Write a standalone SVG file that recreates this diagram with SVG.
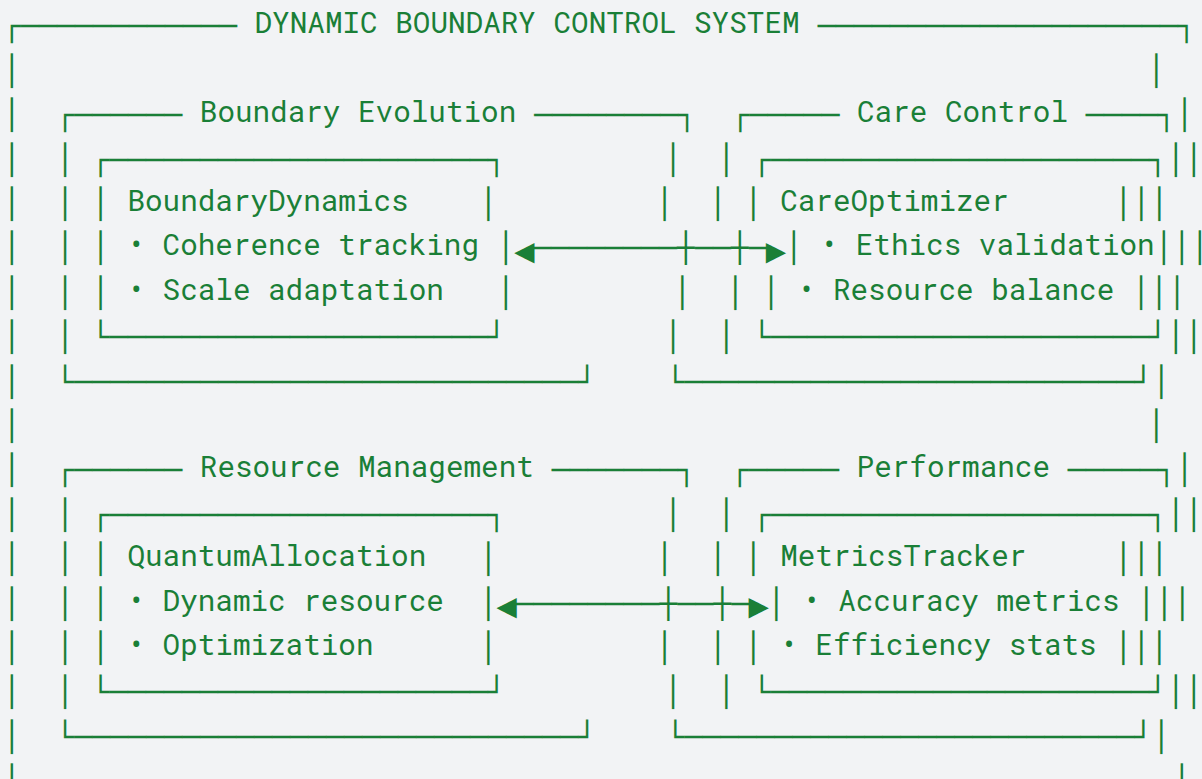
<svg xmlns="http://www.w3.org/2000/svg" width="1202" height="779" viewBox="0 0 1202 779">
<defs>
<style>
.t{font-family:"Roboto Mono","DejaVu Sans Mono","Liberation Mono",monospace;font-size:29.3px;fill:#1a7f37}
.b{font-family:"DejaVu Sans Mono","Liberation Mono",monospace;font-size:29.3px;fill:#1a7f37;transform:translate(0px,3px)}
.a{font-family:"DejaVu Sans Mono","Liberation Mono",monospace;font-size:29.3px;fill:#1a7f37;text-anchor:middle}
</style>
</defs>
<rect width="1202" height="779" fill="#f2f3f5"/>

<g id="frame">
<text class="b" x="3" y="33.3">┌</text>
<text class="b" x="21" y="33.3" textLength="216" lengthAdjust="spacingAndGlyphs">────────────</text>
<text class="t" x="254.6" y="33.3">DYNAMIC BOUNDARY CONTROL SYSTEM</text>
<text class="b" x="817.8" y="33.3" textLength="360" lengthAdjust="spacingAndGlyphs">────────────────────</text>
<text class="b" x="1177.8" y="33.3">┐</text>
<text class="b"><tspan x="3" y="77.7">│</tspan><tspan x="3" y="122.1">│</tspan><tspan x="3" y="166.5">│</tspan><tspan x="3" y="210.9">│</tspan><tspan x="3" y="255.3">│</tspan><tspan x="3" y="299.7">│</tspan><tspan x="3" y="344.1">│</tspan><tspan x="3" y="388.5">│</tspan><tspan x="3" y="432.9">│</tspan><tspan x="3" y="477.3">│</tspan><tspan x="3" y="521.7">│</tspan><tspan x="3" y="566.1">│</tspan><tspan x="3" y="610.5">│</tspan><tspan x="3" y="654.9">│</tspan><tspan x="3" y="699.3">│</tspan><tspan x="3" y="743.7">│</tspan><tspan x="3" y="788.1">│</tspan></text>
<text class="b"><tspan x="1147.4" y="77.7">│</tspan><tspan x="1175.8" y="122.1">│</tspan><tspan x="1185" y="166.5">│</tspan><tspan x="1150.6" y="210.9">│</tspan><tspan x="1191" y="255.3">│</tspan><tspan x="1168.2" y="299.7">│</tspan><tspan x="1185" y="344.1">│</tspan><tspan x="1152.6" y="388.5">│</tspan><tspan x="1147.4" y="432.9">│</tspan><tspan x="1175.8" y="477.3">│</tspan><tspan x="1185" y="521.7">│</tspan><tspan x="1150.6" y="566.1">│</tspan><tspan x="1173.4" y="610.5">│</tspan><tspan x="1150.6" y="654.9">│</tspan><tspan x="1185" y="699.3">│</tspan><tspan x="1152.6" y="743.7">│</tspan><tspan x="1173" y="788.1">│</tspan></text>
</g>

<g id="boundary-evolution">
<text class="b" x="56.2" y="122.1">┌</text>
<text class="b" x="74.2" y="122.1" textLength="108" lengthAdjust="spacingAndGlyphs">──────</text>
<text class="t" x="199.8" y="122.1">Boundary Evolution</text>
<text class="b" x="534.2" y="122.1" textLength="144" lengthAdjust="spacingAndGlyphs">────────</text>
<text class="b" x="678.2" y="122.1">┐</text>
<text class="b"><tspan x="56.2" y="166.5">│</tspan><tspan x="56.2" y="210.9">│</tspan><tspan x="56.2" y="255.3">│</tspan><tspan x="56.2" y="299.7">│</tspan><tspan x="56.2" y="344.1">│</tspan></text>
<text class="b"><tspan x="664.2" y="166.5">│</tspan><tspan x="655.8" y="210.9">│</tspan><tspan x="673.4" y="299.7">│</tspan><tspan x="664.2" y="344.1">│</tspan></text>
<text class="b" x="56.2" y="388.5">└</text>
<text class="b" x="74.2" y="388.5" textLength="504" lengthAdjust="spacingAndGlyphs">────────────────────────────</text>
<text class="b" x="578.2" y="388.5">┘</text>
</g>

<g id="boundary-dynamics">
<text class="b" x="91.8" y="166.5">┌</text>
<text class="b" x="109.8" y="166.5" textLength="378" lengthAdjust="spacingAndGlyphs">─────────────────────</text>
<text class="b" x="487.8" y="166.5">┐</text>
<text class="b"><tspan x="91.8" y="210.9">│</tspan><tspan x="479.4" y="210.9">│</tspan><tspan x="91.8" y="255.3">│</tspan><tspan x="497" y="255.3">│</tspan><tspan x="91.8" y="299.7">│</tspan><tspan x="497" y="299.7">│</tspan></text>
<text class="t" x="127.4" y="210.9">BoundaryDynamics</text>
<text class="t" x="127.4" y="255.3">• Coherence tracking</text>
<text class="t" x="127.4" y="299.7">• Scale adaptation</text>
<text class="b" x="91.8" y="344.1">└</text>
<text class="b" x="109.8" y="344.1" textLength="378" lengthAdjust="spacingAndGlyphs">─────────────────────</text>
<text class="b" x="487.8" y="344.1">┘</text>
</g>

<g id="care-control">
<text class="b" x="731.4" y="122.1">┌</text>
<text class="b" x="749.4" y="122.1" textLength="90" lengthAdjust="spacingAndGlyphs">─────</text>
<text class="t" x="857" y="122.1">Care Control</text>
<text class="b" x="1085.8" y="122.1" textLength="72" lengthAdjust="spacingAndGlyphs">────</text>
<text class="b" x="1157.8" y="122.1">┐</text>
<text class="b"><tspan x="717.4" y="166.5">│</tspan><tspan x="709" y="210.9">│</tspan><tspan x="726.6" y="299.7">│</tspan><tspan x="717.4" y="344.1">│</tspan></text>
<text class="b"><tspan x="1167" y="166.5">│</tspan><tspan x="1132.6" y="210.9">│</tspan><tspan x="1173" y="255.3">│</tspan><tspan x="1150.2" y="299.7">│</tspan><tspan x="1167" y="344.1">│</tspan></text>
<text class="b" x="666.6" y="388.5">└</text>
<text class="b" x="684.6" y="388.5" textLength="450" lengthAdjust="spacingAndGlyphs">─────────────────────────</text>
<text class="b" x="1134.6" y="388.5">┘</text>
</g>

<g id="care-optimizer">
<text class="b" x="753" y="166.5">┌</text>
<text class="b" x="771" y="166.5" textLength="378" lengthAdjust="spacingAndGlyphs">─────────────────────</text>
<text class="b" x="1149" y="166.5">┐</text>
<text class="b"><tspan x="744.6" y="210.9">│</tspan><tspan x="1114.6" y="210.9">│</tspan><tspan x="785" y="255.3">│</tspan><tspan x="1155" y="255.3">│</tspan><tspan x="762.2" y="299.7">│</tspan><tspan x="1132.2" y="299.7">│</tspan></text>
<text class="t" x="780.2" y="210.9">CareOptimizer</text>
<text class="t" x="820.6" y="255.3">• Ethics validation</text>
<text class="t" x="797.8" y="299.7">• Resource balance</text>
<text class="b" x="753" y="344.1">└</text>
<text class="b" x="771" y="344.1" textLength="378" lengthAdjust="spacingAndGlyphs">─────────────────────</text>
<text class="b" x="1149" y="344.1">┘</text>
</g>

<g id="resource-management">
<text class="b" x="56.2" y="477.3">┌</text>
<text class="b" x="74.2" y="477.3" textLength="108" lengthAdjust="spacingAndGlyphs">──────</text>
<text class="t" x="199.8" y="477.3">Resource Management</text>
<text class="b" x="551.8" y="477.3" textLength="126" lengthAdjust="spacingAndGlyphs">───────</text>
<text class="b" x="677.8" y="477.3">┐</text>
<text class="b"><tspan x="56.2" y="521.7">│</tspan><tspan x="56.2" y="566.1">│</tspan><tspan x="56.2" y="610.5">│</tspan><tspan x="56.2" y="654.9">│</tspan><tspan x="56.2" y="699.3">│</tspan></text>
<text class="b"><tspan x="664.2" y="521.7">│</tspan><tspan x="655.8" y="566.1">│</tspan><tspan x="655.8" y="654.9">│</tspan><tspan x="664.2" y="699.3">│</tspan></text>
<text class="b" x="56.2" y="743.7">└</text>
<text class="b" x="74.2" y="743.7" textLength="504" lengthAdjust="spacingAndGlyphs">────────────────────────────</text>
<text class="b" x="578.2" y="743.7">┘</text>
</g>

<g id="quantum-allocation">
<text class="b" x="91.8" y="521.7">┌</text>
<text class="b" x="109.8" y="521.7" textLength="378" lengthAdjust="spacingAndGlyphs">─────────────────────</text>
<text class="b" x="487.8" y="521.7">┐</text>
<text class="b"><tspan x="91.8" y="566.1">│</tspan><tspan x="479.4" y="566.1">│</tspan><tspan x="91.8" y="610.5">│</tspan><tspan x="479.4" y="610.5">│</tspan><tspan x="91.8" y="654.9">│</tspan><tspan x="479.4" y="654.9">│</tspan></text>
<text class="t" x="127.4" y="566.1">QuantumAllocation</text>
<text class="t" x="127.4" y="610.5">• Dynamic resource</text>
<text class="t" x="127.4" y="654.9">• Optimization</text>
<text class="b" x="91.8" y="699.3">└</text>
<text class="b" x="109.8" y="699.3" textLength="378" lengthAdjust="spacingAndGlyphs">─────────────────────</text>
<text class="b" x="487.8" y="699.3">┘</text>
</g>

<g id="performance">
<text class="b" x="731" y="477.3">┌</text>
<text class="b" x="749" y="477.3" textLength="90" lengthAdjust="spacingAndGlyphs">─────</text>
<text class="t" x="856.6" y="477.3">Performance</text>
<text class="b" x="1067.8" y="477.3" textLength="90" lengthAdjust="spacingAndGlyphs">─────</text>
<text class="b" x="1157.8" y="477.3">┐</text>
<text class="b"><tspan x="717.4" y="521.7">│</tspan><tspan x="709" y="566.1">│</tspan><tspan x="709" y="654.9">│</tspan><tspan x="717.4" y="699.3">│</tspan></text>
<text class="b"><tspan x="1167" y="521.7">│</tspan><tspan x="1132.6" y="566.1">│</tspan><tspan x="1155.4" y="610.5">│</tspan><tspan x="1132.6" y="654.9">│</tspan><tspan x="1167" y="699.3">│</tspan></text>
<text class="b" x="666.6" y="743.7">└</text>
<text class="b" x="684.6" y="743.7" textLength="450" lengthAdjust="spacingAndGlyphs">─────────────────────────</text>
<text class="b" x="1134.6" y="743.7">┘</text>
</g>

<g id="metrics-tracker">
<text class="b" x="753" y="521.7">┌</text>
<text class="b" x="771" y="521.7" textLength="378" lengthAdjust="spacingAndGlyphs">─────────────────────</text>
<text class="b" x="1149" y="521.7">┐</text>
<text class="b"><tspan x="744.6" y="566.1">│</tspan><tspan x="1114.6" y="566.1">│</tspan><tspan x="767.4" y="610.5">│</tspan><tspan x="1137.4" y="610.5">│</tspan><tspan x="744.6" y="654.9">│</tspan><tspan x="1114.6" y="654.9">│</tspan></text>
<text class="t" x="780.2" y="566.1">MetricsTracker</text>
<text class="t" x="803" y="610.5">• Accuracy metrics</text>
<text class="t" x="780.2" y="654.9">• Efficiency stats</text>
<text class="b" x="753" y="699.3">└</text>
<text class="b" x="771" y="699.3" textLength="378" lengthAdjust="spacingAndGlyphs">─────────────────────</text>
<text class="b" x="1149" y="699.3">┘</text>
</g>

<g id="connectors">
<text class="a" transform="translate(524.5,248) scale(1.15,1.8)" x="0" y="10.3">◄</text>
<text class="b" x="533" y="255.3" textLength="144" lengthAdjust="spacingAndGlyphs">────────</text>
<text class="b" x="677" y="255.3">┼</text>
<text class="b" x="695" y="255.3" textLength="36" lengthAdjust="spacingAndGlyphs">──</text>
<text class="b" x="731" y="255.3">┼</text>
<text class="b" x="749" y="255.3" textLength="18" lengthAdjust="spacingAndGlyphs">─</text>
<text class="a" transform="translate(776,248) scale(1.15,1.8)" x="0" y="10.3">►</text>
<text class="a" transform="translate(506.6,603.2) scale(1.15,1.8)" x="0" y="10.3">◄</text>
<text class="b" x="515.4" y="610.5" textLength="144" lengthAdjust="spacingAndGlyphs">────────</text>
<text class="b" x="659.4" y="610.5">┼</text>
<text class="b" x="677.4" y="610.5" textLength="36" lengthAdjust="spacingAndGlyphs">──</text>
<text class="b" x="713.4" y="610.5">┼</text>
<text class="b" x="731.4" y="610.5" textLength="18" lengthAdjust="spacingAndGlyphs">─</text>
<text class="a" transform="translate(758.7,603.2) scale(1.15,1.8)" x="0" y="10.3">►</text>
</g>
</svg>
